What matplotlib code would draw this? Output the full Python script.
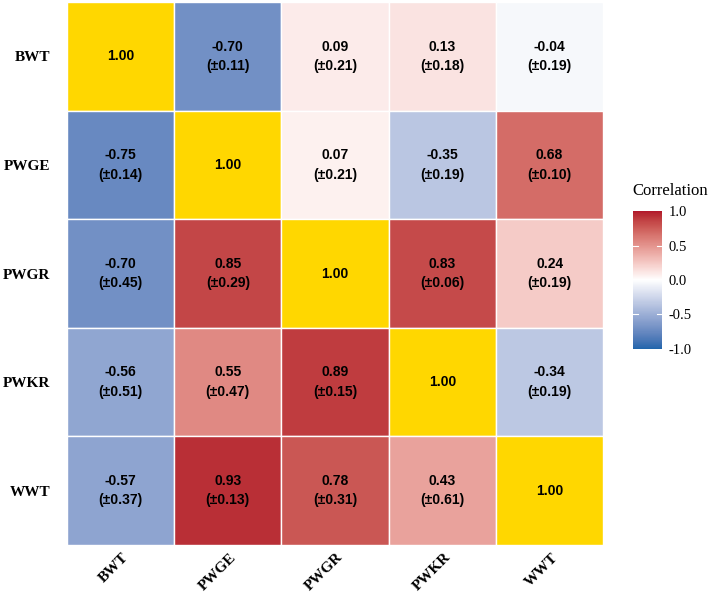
import numpy as np
import matplotlib
matplotlib.use("Agg")
import matplotlib.pyplot as plt
import matplotlib.transforms as mtransforms
from matplotlib.colors import ListedColormap, Normalize, to_rgb
from matplotlib.cm import ScalarMappable

traits = ["BWT", "PWGE", "PWGR", "PWKR", "WWT"]

# correlation matrix (rows top->bottom) and standard errors
corr = [
    [1.00, -0.70, 0.09, 0.13, -0.04],
    [-0.75, 1.00, 0.07, -0.35, 0.68],
    [-0.70, 0.85, 1.00, 0.83, 0.24],
    [-0.56, 0.55, 0.89, 1.00, -0.34],
    [-0.57, 0.93, 0.78, 0.43, 1.00],
]
se = [
    [None, 0.11, 0.21, 0.18, 0.19],
    [0.14, None, 0.21, 0.19, 0.10],
    [0.45, 0.29, None, 0.06, 0.19],
    [0.51, 0.47, 0.15, None, 0.19],
    [0.37, 0.13, 0.31, 0.61, None],
]
cbar_ticks = [-1.0, -0.5, 0.0, 0.5, 1.0]


# ggplot-like gradient2 (interpolated in Lab space)
def _to_lab(rgb):
    c = np.array(rgb, dtype=float)
    c = np.where(c > 0.04045, ((c + 0.055) / 1.055) ** 2.4, c / 12.92)
    m = np.array([[0.4124, 0.3576, 0.1805],
                  [0.2126, 0.7152, 0.0722],
                  [0.0193, 0.1192, 0.9505]])
    xyz = m @ c / np.array([0.95047, 1.0, 1.08883])
    f = np.where(xyz > 0.008856, np.cbrt(xyz), 7.787 * xyz + 16 / 116)
    return np.array([116 * f[1] - 16, 500 * (f[0] - f[1]), 200 * (f[1] - f[2])])


def _from_lab(lab):
    L, a, b = lab
    fy = (L + 16) / 116
    fx = fy + a / 500
    fz = fy - b / 200
    f = np.array([fx, fy, fz])
    xyz = np.where(f ** 3 > 0.008856, f ** 3, (f - 16 / 116) / 7.787)
    xyz = xyz * np.array([0.95047, 1.0, 1.08883])
    m = np.array([[3.2406, -1.5372, -0.4986],
                  [-0.9689, 1.8758, 0.0415],
                  [0.0557, -0.2040, 1.0570]])
    c = m @ xyz
    c = np.where(c > 0.0031308, 1.055 * np.clip(c, 0, None) ** (1 / 2.4) - 0.055, 12.92 * c)
    return np.clip(c, 0, 1)


low, mid, high = _to_lab(to_rgb("#2166AC")), _to_lab(to_rgb("#FFFFFF")), _to_lab(to_rgb("#B2182B"))
cols = []
for t in np.linspace(-1, 1, 256):
    if t < 0:
        cols.append(_from_lab(mid + (low - mid) * (-t)))
    else:
        cols.append(_from_lab(mid + (high - mid) * t))
cmap = ListedColormap(cols)
norm = Normalize(-1, 1)

plt.rcParams["font.family"] = ["Liberation Sans", "DejaVu Sans"]
fig = plt.figure(figsize=(7.14, 5.95), dpi=100)
ax = fig.add_axes([0.0938, 0.084, 0.751, 0.9126])

n = len(traits)
for i in range(n):
    for j in range(n):
        r = corr[i][j]
        if i == j:
            fc = "#FFD700"
            label = f"{r:.2f}"
        else:
            fc = cmap(norm(r))
            label = f"{r:.2f}\n(\u00b1{se[i][j]:.2f})"
        ax.add_patch(plt.Rectangle((j, i), 1, 1, facecolor=fc, edgecolor="white", linewidth=1))
        ax.text(j + 0.5, i + 0.5, label, ha="center", va="center", fontsize=10,
                fontweight="bold", color="black", linespacing=1.5)

ax.set_xlim(0, n)
ax.set_ylim(n, 0)
ax.set_xticks(np.arange(n) + 0.5)
ax.set_yticks(np.arange(n) + 0.5)
ax.set_xticklabels(traits, rotation=45, ha="right", va="center", rotation_mode="anchor",
                   family="Liberation Serif", fontweight="bold", fontsize=11)
ax.set_yticklabels(traits, family="Liberation Serif", fontweight="bold", fontsize=11)
ax.tick_params(length=0, pad=12)
ax.tick_params(axis="x", pad=9)
shift = mtransforms.ScaledTranslation(6 / 100, 2 / 100, fig.dpi_scale_trans)
for lab in ax.get_xticklabels():
    lab.set_transform(lab.get_transform() + shift)
for s in ax.spines.values():
    s.set_visible(False)

cax = fig.add_axes([0.887, 0.414, 0.040, 0.231])
cb = fig.colorbar(ScalarMappable(norm=norm, cmap=cmap), cax=cax, ticks=cbar_ticks)
cb.outline.set_visible(False)
cb.ax.tick_params(length=0, pad=5)
cb.ax.set_yticklabels([f"{v:.1f}" for v in cbar_ticks], family="Liberation Serif", fontsize=10.5)
for v in [-0.5, 0.5]:
    cax.plot([0, 0.18], [v, v], color="white", lw=0.8)
    cax.plot([0.82, 1], [v, v], color="white", lw=0.8)
fig.text(0.886, 0.666, "Correlation", family="Liberation Serif", fontsize=12, ha="left", va="bottom")

fig.savefig("out.png", dpi=100)
